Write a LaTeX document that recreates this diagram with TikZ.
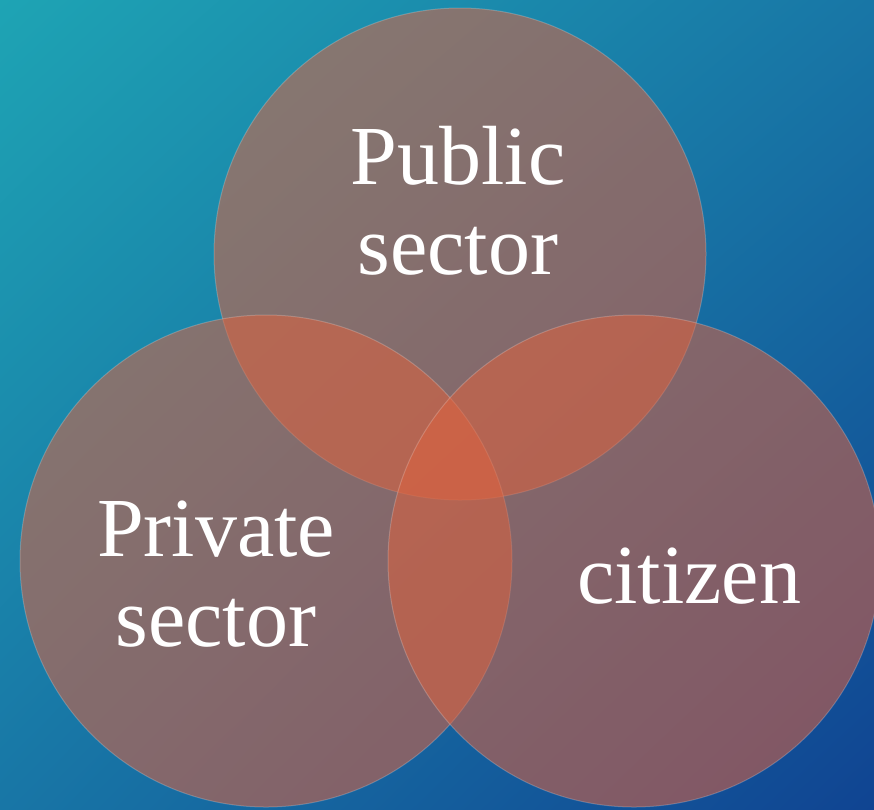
\documentclass[tikz,border=0pt]{standalone}
\usepackage{fontspec}
\setmainfont{Liberation Serif}
\usetikzlibrary{shadings}
\definecolor{bgteal}{RGB}{30,164,180}
\definecolor{bgmid}{RGB}{24,118,166}
\definecolor{bgblue}{RGB}{16,68,146}
\definecolor{vennfill}{RGB}{222,98,62}
\tikzset{
  venn/.style={circle, minimum size=492pt, inner sep=0pt, fill=vennfill, fill opacity=0.55,
    draw=white, draw opacity=0.2, line width=1pt},
  vennlabel/.style={text=white, align=center, font=\fontsize{84}{90}\selectfont}
}

\begin{document}
\begin{tikzpicture}[x=1pt, y=-1pt]
    \clip (0,0) rectangle (874,809);
    \useasboundingbox (0,0) rectangle (874,809);
    \shade[upper left=bgteal, upper right=bgmid, lower left=bgmid, lower right=bgblue]
      (0,0) rectangle (874,809);

    % the three sets
    \node[venn] (pubc) at (460,254) {};
    \node[venn] (privc) at (266,561) {};
    \node[venn] (citc) at (634,561) {};

    \node[vennlabel] (pub) at (458,201) {Public\\sector};
    \node[vennlabel] (priv) at (216,574) {Private\\sector};
    \node[vennlabel] (cit) at (689,576) {citizen};
\end{tikzpicture}
\end{document}
